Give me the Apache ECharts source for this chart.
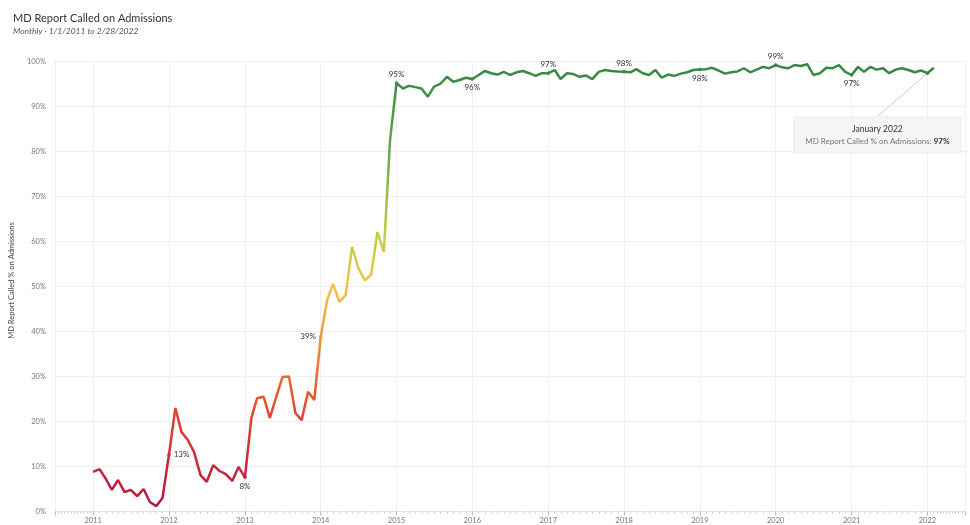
<!DOCTYPE html>
<html>
<head>
<meta charset="utf-8">
<title>MD Report Called on Admissions</title>
<script src="https://cdn.jsdelivr.net/npm/echarts@6/dist/echarts.min.js"></script>
<style>
  html, body { margin: 0; padding: 0; background: #fff; }
  #chart { width: 970px; height: 525px; }
</style>
</head>
<body>
<div id="chart"></div>
<script>
/** 数据：每年的月度百分比 (1月..12月) */
var v2011 = [8.8, 9.4, 7.4, 4.8, 7.0, 4.3, 4.8, 3.4, 5.0, 2.1, 1.2, 3.0];
var v2012 = [12.6, 23.0, 17.7, 15.9, 13.2, 8.1, 6.6, 10.3, 9.0, 8.3, 6.8, 9.9];
var v2013 = [7.6, 20.8, 25.2, 25.5, 20.8, 25.5, 29.9, 30.0, 21.9, 20.3, 26.6, 24.8];
var v2014 = [38.8, 47.0, 50.6, 46.6, 48.1, 58.8, 54.1, 51.4, 52.6, 62.1, 57.7, 82.6];
var v2015 = [95.2, 94.0, 94.6, 94.3, 94.0, 92.2, 94.4, 95.1, 96.6, 95.5, 95.9, 96.4];
var v2016 = [96.1, 97.0, 97.9, 97.4, 97.1, 97.7, 97.0, 97.6, 97.9, 97.4, 96.8, 97.4];
var v2017 = [97.4, 98.1, 96.1, 97.4, 97.2, 96.6, 96.9, 96.1, 97.7, 98.1, 97.9, 97.8];
var v2018 = [97.7, 97.6, 98.3, 97.4, 97.0, 98.1, 96.4, 97.1, 96.8, 97.3, 97.6, 98.1];
var v2019 = [98.2, 98.3, 98.6, 98.0, 97.3, 97.6, 97.8, 98.5, 97.6, 98.2, 98.8, 98.5];
var v2020 = [99.2, 98.7, 98.5, 99.2, 99.0, 99.4, 97.0, 97.4, 98.6, 98.5, 99.2, 97.7];
var v2021 = [97.0, 98.8, 97.7, 98.8, 98.2, 98.5, 97.4, 98.2, 98.5, 98.1, 97.6, 98.0];
var v2022 = [97.4, 98.6];

var years = [2011, 2012, 2013, 2014, 2015, 2016, 2017, 2018, 2019, 2020, 2021, 2022];
var yearValues = [v2011, v2012, v2013, v2014, v2015, v2016, v2017, v2018, v2019, v2020, v2021, v2022];

/** 每年1月的标签位置 (2011 无标签, 2022 为注释框) */
var janLabelPos = {
    2012: 'right', 2013: 'bottom', 2014: 'left', 2015: 'top', 2016: 'bottom',
    2017: 'top', 2018: 'top', 2019: 'bottom', 2020: 'top', 2021: 'bottom'
};
var noteYear = 2022;

var monthNames = ['January', 'February', 'March', 'April', 'May', 'June', 'July',
    'August', 'September', 'October', 'November', 'December'];

/** 红-黄-绿 颜色 (0%..100%) */
var rygColors = ['#b3173f', '#c8263c', '#df3f30', '#ec6634', '#f39c3c', '#efc449',
    '#c9cd43', '#9dbf48', '#6aa84a', '#489548', '#348542'];

var pad = function(n) { return n < 10 ? '0' + n : '' + n; };

/** 组装折线数据 */
var seriesData = [];
var noteIndex = -1;
for (var i = 0; i < years.length; i++) {
    var vals = yearValues[i];
    for (var m = 0; m < vals.length; m++) {
        var item = { value: [years[i] + '-' + pad(m + 1) + '-01', vals[m]] };
        if (m === 0 && janLabelPos[years[i]]) {
            item.labeled = true;
            item.label = { show: true, position: janLabelPos[years[i]], distance: 3 };
        }
        if (m === 0 && years[i] === noteYear) {
            noteIndex = seriesData.length;
            item.labeled = true;
            item.label = {
                show: true,
                position: 'top',
                formatter: function(p) {
                    return '{a|' + monthNames[0] + ' ' + noteYear + '}\n' +
                        '{b|MD Report Called % on Admissions: }{c|' + Math.round(p.value[1]) + '%}';
                },
                backgroundColor: '#f5f5f5',
                borderColor: '#ececec',
                borderWidth: 1,
                padding: [5, 11, 5, 11],
                align: 'center',
                rich: {
                    a: { fontSize: 8.5, color: '#333', lineHeight: 13, align: 'center' },
                    b: { fontSize: 8, color: '#777', lineHeight: 12 },
                    c: { fontSize: 8, color: '#333', fontWeight: 'bold', lineHeight: 12 }
                }
            };
            item.labelLine = { show: true, lineStyle: { color: '#cccccc', width: 1 } };
        }
        seriesData.push(item);
    }
}

var option = {
    animation: false,
    textStyle: { fontFamily: 'Lato, "Open Sans", sans-serif' },
    title: {
        text: 'MD Report Called on Admissions',
        subtext: 'Monthly · 1/1/2011 to 2/28/2022',
        left: 8,
        top: 8,
        itemGap: 3,
        textStyle: { fontSize: 11, fontWeight: 'normal', color: '#333' },
        subtextStyle: { fontSize: 8.5, fontStyle: 'italic', color: '#555' }
    },
    grid: { left: 54, right: 5, top: 61.5, bottom: 13.5 },
    visualMap: {
        show: false,
        type: 'continuous',
        dimension: 1,
        min: 0,
        max: 100,
        inRange: { color: rygColors }
    },
    xAxis: {
        type: 'time',
        min: '2010-07-01',
        max: '2022-07-01',
        splitNumber: 12,
        axisLine: { show: true, lineStyle: { color: '#e2e2e2', type: 'dotted' } },
        axisTick: { show: true, length: 4, lineStyle: { color: '#bbb' } },
        minorTick: { show: true, splitNumber: 12, length: 2, lineStyle: { color: '#ccc' } },
        axisLabel: { formatter: '{yyyy}', fontSize: 7.5, color: '#777', margin: 5 },
        splitLine: { show: true, lineStyle: { color: '#f0f0f0' } }
    },
    yAxis: {
        type: 'value',
        min: 0,
        max: 100,
        interval: 10,
        name: 'MD Report Called % on Admissions',
        nameLocation: 'middle',
        nameGap: 35,
        nameTextStyle: { fontSize: 7.5, color: '#444', padding: [0, 0, 0, 12] },
        axisLine: { show: false },
        axisTick: { show: false },
        axisLabel: { formatter: '{value}%', fontSize: 7.5, color: '#777', margin: 9 },
        splitLine: { lineStyle: { color: '#efefef' } }
    },
    series: [{
        type: 'line',
        data: seriesData,
        showSymbol: true,
        showAllSymbol: true,
        symbol: 'circle',
        symbolSize: function(val, params) {
            return params.data && params.data.labeled ? 3.5 : 0;
        },
        lineStyle: { width: 2.5 },
        label: {
            show: false,
            fontSize: 8,
            color: '#333',
            formatter: function(p) { return Math.round(p.value[1]) + '%'; }
        },
        labelLayout: function(params) {
            // 注释框移到折线下方
            if (params.dataIndex === noteIndex) {
                return { dx: -50, dy: 86 };
            }
            return {};
        }
    }]
};

var myChart = echarts.init(document.getElementById('chart'), null, { renderer: 'canvas' });
myChart.setOption(option);
</script>
</body>
</html>
